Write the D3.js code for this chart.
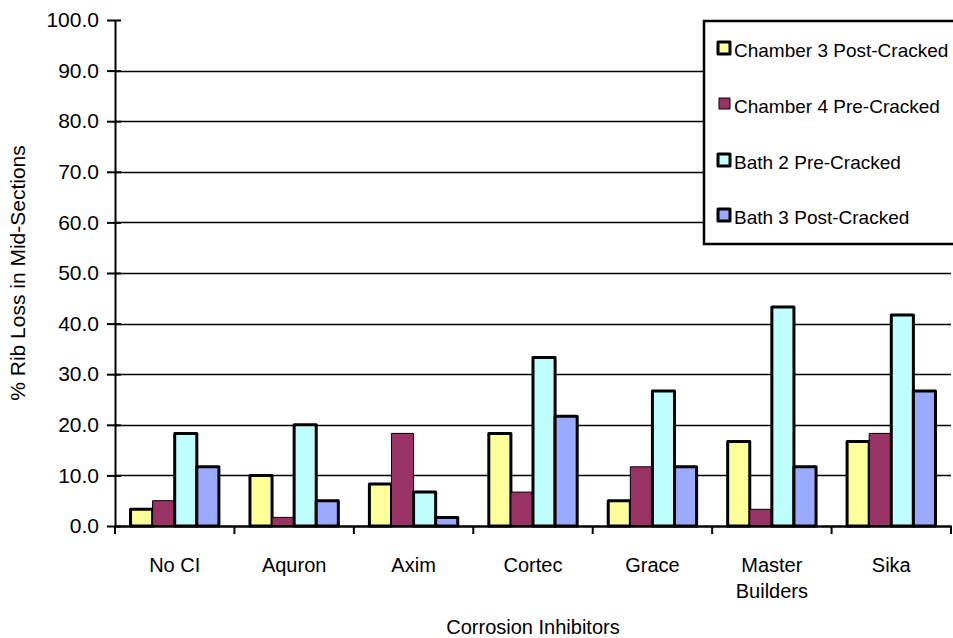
<!DOCTYPE html>
<html>
<head>
<meta charset="utf-8">
<script src="https://cdn.jsdelivr.net/npm/d3@7"></script>
<style>
  html, body { margin: 0; padding: 0; background: #fff; }
  svg { display: block; }
  text { font-family: "Liberation Sans", Arial, sans-serif; fill: #000; }
</style>
</head>
<body>
<svg id="chart" width="953" height="638"></svg>
<script>
const categories = ["No CI", "Aquron", "Axim", "Cortec", "Grace", "Master Builders", "Sika"];
const seriesNames = ["Chamber 3 Post-Cracked", "Chamber 4 Pre-Cracked", "Bath 2 Pre-Cracked", "Bath 3 Post-Cracked"];
const chamber3Post = [3.3, 10.0, 8.3, 18.3, 5.0, 16.7, 16.7];
const chamber4Pre  = [5.0, 1.7, 18.3, 6.7, 11.7, 3.3, 18.3];
const bath2Pre     = [18.3, 20.0, 6.7, 33.3, 26.7, 43.3, 41.7];
const bath3Post    = [11.7, 5.0, 1.7, 21.7, 11.7, 11.7, 26.7];
const yTicks = [0, 10, 20, 30, 40, 50, 60, 70, 80, 90, 100];
const yTitle = "% Rib Loss in Mid-Sections";
const xTitle = "Corrosion Inhibitors";

const seriesValues = [chamber3Post, chamber4Pre, bath2Pre, bath3Post];
const colors = ["#FFFF99", "#993366", "#C0FFFF", "#99AAFF"];
const strokeW = [3, 1, 3, 3];

const svg = d3.select("#chart");
const mLeft = 115, mRight = 951, mTop = 20, mBottom = 526;
const fontSize = 20;

const y = d3.scaleLinear().domain([0, 100]).range([mBottom, mTop]);
const x0 = d3.scaleBand().domain(categories).range([mLeft, mRight]).padding(0);
const bw = x0.bandwidth();
const x1 = d3.scaleBand().domain(d3.range(seriesNames.length))
  .range([bw * 0.13, bw * 0.87]).padding(0);

// gridlines
svg.append("g").selectAll("line")
  .data(yTicks.filter(t => t > 0 && t < 100))
  .join("line")
  .attr("x1", mLeft).attr("x2", mRight)
  .attr("y1", d => Math.round(y(d)) + 0.5).attr("y2", d => Math.round(y(d)) + 0.5)
  .attr("stroke", "#000").attr("stroke-width", 1.6);

// bars
const groups = svg.append("g").selectAll("g")
  .data(categories)
  .join("g")
  .attr("transform", d => `translate(${x0(d)},0)`);

groups.selectAll("rect")
  .data((c, ci) => seriesValues.map((vals, si) => ({ si, v: vals[ci] })))
  .join("rect")
  .attr("x", d => x1(d.si))
  .attr("width", x1.bandwidth())
  .attr("y", d => y(d.v))
  .attr("height", d => y(0) - y(d.v))
  .attr("fill", d => colors[d.si])
  .attr("stroke", "#000")
  .attr("stroke-width", d => strokeW[d.si])
  .attr("stroke-linejoin", "round");

// y axis
const yAxis = d3.axisLeft(y).tickValues(yTicks).tickFormat(d3.format(".1f"))
  .tickSizeInner(8).tickSizeOuter(0).tickPadding(8);
const gy = svg.append("g").attr("transform", `translate(${mLeft},0)`).call(yAxis);
gy.select(".domain").attr("stroke", "#000").attr("stroke-width", 2);
gy.selectAll(".tick line").attr("x1", 6).attr("x2", -8).attr("stroke", "#000").attr("stroke-width", 2);
gy.selectAll(".tick text").attr("font-size", 21).attr("font-family", "Liberation Sans, Arial, sans-serif").attr("fill", "#000");

// x axis
const xAxis = d3.axisBottom(x0).tickSize(0).tickPadding(0);
const gx = svg.append("g").attr("transform", `translate(0,${mBottom})`).call(xAxis);
gx.select(".domain").attr("stroke", "#000").attr("stroke-width", 2.5);
gx.selectAll(".tick text").remove();
const boundaries = categories.map(c => x0(c)).concat([mRight]);
gx.append("g").selectAll("line").data(boundaries).join("line")
  .attr("x1", d => d).attr("x2", d => d).attr("y1", 0).attr("y2", 8)
  .attr("stroke", "#000").attr("stroke-width", 2);

// category labels with wrapping
const labels = svg.append("g");
categories.forEach(c => {
  const cx = x0(c) + bw / 2;
  const t = labels.append("text")
    .attr("x", cx).attr("y", 572)
    .attr("text-anchor", "middle")
    .attr("font-size", fontSize)
    .text(c);
  if (t.node().getComputedTextLength() > bw * 0.9) {
    const words = c.split(" ");
    t.text(null);
    words.forEach((w, i) => {
      t.append("tspan").attr("x", cx).attr("dy", i === 0 ? 0 : 26).text(w);
    });
  }
});

// axis titles
svg.append("text")
  .attr("x", (mLeft + mRight) / 2).attr("y", 634)
  .attr("text-anchor", "middle").attr("font-size", fontSize)
  .text(xTitle);

svg.append("text")
  .attr("transform", `translate(25,${(mTop + mBottom) / 2}) rotate(-90)`)
  .attr("text-anchor", "middle").attr("font-size", 21)
  .text(yTitle);

// legend
const lg = svg.append("g");
lg.append("rect")
  .attr("x", 704).attr("y", 21).attr("width", 260).attr("height", 223)
  .attr("fill", "#fff").attr("stroke", "#000").attr("stroke-width", 2.5);
const itemY = [50, 106, 162, 217];
seriesNames.forEach((name, i) => {
  const sz = i === 1 ? 11 : 12;
  lg.append("rect")
    .attr("x", 718 + (i === 1 ? 1 : 0)).attr("y", itemY[i] - 8)
    .attr("width", sz).attr("height", sz)
    .attr("fill", colors[i]).attr("stroke", "#000").attr("stroke-width", strokeW[i])
    .attr("stroke-linejoin", "round");
  lg.append("text")
    .attr("x", 734).attr("y", itemY[i] + 7)
    .attr("font-size", 19)
    .text(name);
});
</script>
</body>
</html>
